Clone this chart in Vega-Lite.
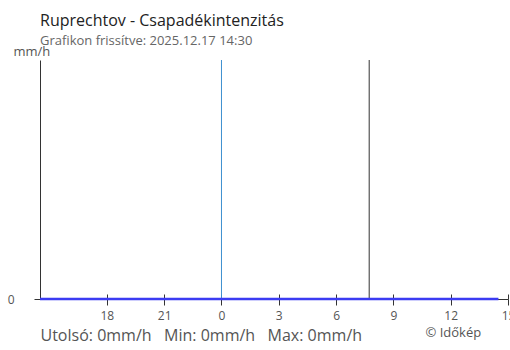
{
  "$schema": "https://vega.github.io/schema/vega-lite/v6.json",
  "width": 468,
  "height": 239,
  "autosize": "none",
  "padding": {"left": 40, "top": 60, "right": 2, "bottom": 51},
  "background": "white",
  "config": {
    "font": "Open Sans",
    "view": {"stroke": null},
    "axis": {"grid": false, "labelFont": "Open Sans", "titleFont": "Open Sans", "titleFontWeight": "normal"}
  },
  "title": {
    "text": "Ruprechtov - Csapadékintenzitás",
    "subtitle": "Grafikon frissítve: 2025.12.17 14:30",
    "anchor": "start",
    "frame": "group",
    "fontSize": 16,
    "fontWeight": "normal",
    "color": "#222222",
    "subtitleFontSize": 13,
    "subtitleColor": "#666666",
    "subtitlePadding": 6,
    "offset": -3
  },
  "datasets": {
    "rain": [
      {"t": "2025-12-16T14:30:00", "v": 0},
      {"t": "2025-12-16T16:30:00", "v": 0},
      {"t": "2025-12-16T18:30:00", "v": 0},
      {"t": "2025-12-16T20:30:00", "v": 0},
      {"t": "2025-12-16T22:30:00", "v": 0},
      {"t": "2025-12-17T00:30:00", "v": 0},
      {"t": "2025-12-17T02:30:00", "v": 0},
      {"t": "2025-12-17T04:30:00", "v": 0},
      {"t": "2025-12-17T06:30:00", "v": 0},
      {"t": "2025-12-17T08:30:00", "v": 0},
      {"t": "2025-12-17T10:30:00", "v": 0},
      {"t": "2025-12-17T12:30:00", "v": 0},
      {"t": "2025-12-17T14:30:00", "v": 0}
    ],
    "marks": [
      {"t": "2025-12-17T00:00:00", "kind": "midnight"},
      {"t": "2025-12-17T07:44:00", "kind": "marker"}
    ]
  },
  "resolve": {"axis": {"x": "independent"}},
  "layer": [
    {
      "data": {"name": "marks"},
      "mark": {"type": "rule", "strokeWidth": 1},
      "encoding": {
        "x": {
          "field": "t", "type": "temporal",
          "scale": {"domain": [{"year": 2025, "month": 12, "date": 16, "hours": 14, "minutes": 30}, {"year": 2025, "month": 12, "date": 17, "hours": 15}]},
          "axis": {
            "orient": "bottom",
            "values": [
              {"year": 2025, "month": 12, "date": 16, "hours": 18},
              {"year": 2025, "month": 12, "date": 16, "hours": 21},
              {"year": 2025, "month": 12, "date": 17, "hours": 0},
              {"year": 2025, "month": 12, "date": 17, "hours": 3},
              {"year": 2025, "month": 12, "date": 17, "hours": 6},
              {"year": 2025, "month": 12, "date": 17, "hours": 9},
              {"year": 2025, "month": 12, "date": 17, "hours": 12},
              {"year": 2025, "month": 12, "date": 17, "hours": 15}
            ],
            "labels": false,
            "domain": false,
            "tickSize": -5,
            "tickColor": "#333333",
            "title": "© Időkép",
            "titleFontSize": 13,
            "titleColor": "#555555",
            "titleAlign": "left",
            "titleBaseline": "alphabetic",
            "titleX": 385,
            "titleY": 37
          }
        },
        "color": {
          "field": "kind", "type": "nominal",
          "scale": {"domain": ["midnight", "marker"], "range": ["#3d8fcf", "#333333"]},
          "legend": null
        }
      }
    },
    {
      "data": {"name": "rain"},
      "mark": {"type": "line", "color": "#3b3bf2", "strokeWidth": 2.5},
      "encoding": {
        "x": {
          "field": "t", "type": "temporal",
          "axis": {
            "orient": "bottom",
            "values": [
              {"year": 2025, "month": 12, "date": 16, "hours": 18},
              {"year": 2025, "month": 12, "date": 16, "hours": 21},
              {"year": 2025, "month": 12, "date": 17, "hours": 0},
              {"year": 2025, "month": 12, "date": 17, "hours": 3},
              {"year": 2025, "month": 12, "date": 17, "hours": 6},
              {"year": 2025, "month": 12, "date": 17, "hours": 9},
              {"year": 2025, "month": 12, "date": 17, "hours": 12},
              {"year": 2025, "month": 12, "date": 17, "hours": 15}
            ],
            "format": "%-H",
            "labelFlush": false,
            "labelOverlap": false,
            "labelFontSize": 12,
            "labelColor": "#555555",
            "labelPadding": 5,
            "tickSize": 6,
            "tickColor": "#333333",
            "domainColor": "#333333",
            "title": "Utolsó: 0mm/h\u00a0\u00a0 Min: 0mm/h\u00a0\u00a0 Max: 0mm/h",
            "titleFontSize": 16,
            "titleColor": "#555555",
            "titleAlign": "left",
            "titleBaseline": "alphabetic",
            "titleX": 0,
            "titleY": 41
          }
        },
        "y": {
          "field": "v", "type": "quantitative",
          "scale": {"domain": [0, 1]},
          "axis": {
            "values": [0],
            "labelFontSize": 12,
            "labelColor": "#555555",
            "labelPadding": 20,
            "tickSize": 6,
            "tickColor": "#333333",
            "domainColor": "#333333",
            "title": "mm/h",
            "titleFontSize": 13,
            "titleColor": "#555555",
            "titleAngle": 0,
            "titleAlign": "left",
            "titleBaseline": "alphabetic",
            "titleX": -27,
            "titleY": -5
          }
        }
      }
    }
  ]
}
